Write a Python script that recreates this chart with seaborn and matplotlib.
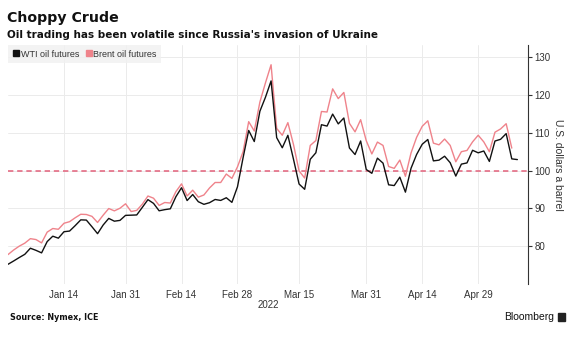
import numpy as np
import pandas as pd
import matplotlib
matplotlib.use("Agg")
import matplotlib.pyplot as plt
import seaborn as sns
from matplotlib.lines import Line2D
from matplotlib.patches import Rectangle

# ---- data ----
dates = [d for d in pd.bdate_range("2021-12-31", "2022-05-10") if d != pd.Timestamp("2022-04-15")]

wti = [75.21,
       76.08, 76.99, 77.85, 79.46, 78.90, 78.23, 81.22, 82.64, 82.12, 83.82, 84.00,
       85.43, 86.96, 86.90, 85.14, 83.31, 85.60, 87.35, 86.61, 86.82, 88.15,
       88.20, 88.26, 90.27, 92.31, 91.32, 89.36, 89.66, 89.88, 93.10, 95.46,
       92.07, 93.66, 91.76, 91.07, 91.50, 92.35, 92.10, 92.81, 91.59, 95.72,
       103.41, 110.60, 107.67, 115.68, 119.40, 123.70, 108.70, 106.02, 109.33, 103.01,
       96.44, 95.04, 102.98, 104.70, 112.12, 111.76, 114.93, 112.34, 113.90, 105.96,
       104.24, 107.82, 100.28,
       99.27, 103.28, 101.96, 96.23, 96.03, 98.26, 94.29, 100.60, 104.25, 106.95,
       108.21, 102.56, 102.75, 103.79, 102.07, 98.54, 101.70, 102.02, 105.36, 104.69,
       105.17, 102.41, 107.81, 108.26, 109.77, 103.09, 102.90]

brent = [77.78,
         78.98, 80.00, 80.80, 81.99, 81.75, 80.87, 83.72, 84.67, 84.47, 86.06, 86.48,
         87.51, 88.44, 88.38, 87.89, 86.27, 88.20, 89.96, 89.34, 90.03, 91.21,
         89.16, 89.47, 91.11, 93.27, 92.69, 90.78, 91.55, 91.41, 94.44, 96.48,
         93.28, 94.81, 92.97, 93.54, 95.39, 96.84, 96.84, 99.08, 97.93, 100.99,
         104.97, 112.93, 110.46, 118.11, 123.21, 127.98, 111.14, 109.33, 112.67, 106.90,
         99.91, 98.02, 106.64, 107.93, 115.62, 115.48, 121.60, 119.03, 120.65, 112.48,
         110.23, 113.45, 107.91,
         104.39, 107.53, 106.64, 101.07, 100.58, 102.78, 98.48, 104.64, 108.78, 111.70,
         113.16, 107.25, 106.80, 108.33, 106.65, 102.32, 104.99, 105.32, 107.59, 109.34,
         107.58, 104.97, 110.14, 111.00, 112.39, 105.94]

tick_dates = ["2022-01-14", "2022-01-31", "2022-02-14", "2022-02-28",
              "2022-03-15", "2022-03-31", "2022-04-14", "2022-04-29"]
tick_labels = ["Jan 14", "Jan 31", "Feb 14", "Feb 28", "Mar 15", "Mar 31", "Apr 14", "Apr 29"]
y_ticks = [80, 90, 100, 110, 120, 130]
ref_level = 100

series_names = ["WTI oil futures", "Brent oil futures"]
colors = ["#111111", "#ef838b"]

# ---- frame ----
n = len(dates)
brent_full = brent + [np.nan] * (n - len(brent))
df = pd.DataFrame({"idx": np.arange(n), "date": dates, "WTI": wti, "Brent": brent_full})
long = df.melt(id_vars=["idx", "date"], value_vars=["WTI", "Brent"],
               var_name="series", value_name="price")

sns.set_style("white")
plt.rcParams["font.family"] = ["DejaVu Sans"]

fig = plt.figure(figsize=(5.74, 3.38), dpi=100)
ax = fig.add_axes([8 / 574, 1 - 284 / 338, 520 / 574, 239 / 338])

date_index = {d.strftime("%Y-%m-%d"): i for i, d in enumerate(dates)}
tick_pos = [date_index[t] for t in tick_dates]

# grid
for t in tick_pos:
    ax.axvline(t, color="#ebebeb", lw=0.7, zorder=0)
for y in y_ticks:
    ax.axhline(y, color="#ebebeb", lw=0.7, zorder=0)

ax.axhline(ref_level, color="#e2607a", lw=1.1, ls=(0, (3.5, 2.5)), zorder=1)

sns.lineplot(data=long, x="idx", y="price", hue="series",
             palette={"WTI": colors[0], "Brent": colors[1]},
             hue_order=["Brent", "WTI"], lw=1.0, ax=ax, legend=False, zorder=3)

ax.set_xlim(0, 92.9)
ax.set_ylim(70, 133.2)
ax.set_xticks(tick_pos)
ax.set_xticklabels(tick_labels, fontsize=7, color="#333333", family="Liberation Sans")
ax.tick_params(axis="x", length=0, pad=4)

ax.yaxis.tick_right()
ax.set_yticks(y_ticks)
ax.set_yticklabels([str(v) for v in y_ticks], fontsize=7, color="#333333", family="Liberation Sans")
ax.tick_params(axis="y", direction="out", length=3, width=0.8, color="#333333", pad=1.5)
ax.yaxis.set_label_position("right")
ax.set_ylabel("U.S. dollars a barrel", rotation=-90, fontsize=7.5, color="#333333",
              labelpad=9, family="Liberation Sans")
ax.set_xlabel("")

for s in ["top", "left", "bottom"]:
    ax.spines[s].set_visible(False)
ax.spines["right"].set_color("#333333")
ax.spines["right"].set_linewidth(0.8)

# legend
handles = [Line2D([], [], marker="s", ls="", color=c, markersize=4.5) for c in colors]
leg = ax.legend(handles, series_names, loc="upper left", bbox_to_anchor=(0.0, 1.0),
                frameon=True, ncol=2, handletextpad=0.1, columnspacing=0.7,
                borderpad=0.5, handlelength=0.8, borderaxespad=0.0,
                prop={"family": "Liberation Sans", "size": 6.5})
leg.get_frame().set_facecolor("#f1f1f1")
leg.get_frame().set_edgecolor("none")
leg.get_frame().set_boxstyle("square", pad=0)
for t in leg.get_texts():
    t.set_color("#333333")

# texts
fig.text(7 / 574, 1 - 18 / 338, "Choppy Crude", fontsize=10.2, fontweight="bold",
         va="center", ha="left", color="#111111")
fig.text(7 / 574, 1 - 35 / 338, "Oil trading has been volatile since Russia's invasion of Ukraine",
         fontsize=7.5, fontweight="bold", va="center", ha="left", color="#111111")
fig.text((8 + 520 / 2) / 574, 1 - 305 / 338, "2022", fontsize=7, ha="center", va="center",
         color="#333333", family="Liberation Sans")
fig.text(10 / 574, 1 - 318 / 338, "Source: Nymex, ICE", fontsize=5.8, fontweight="bold",
         ha="left", va="center", color="#111111")
fig.text(554 / 574, 1 - 317 / 338, "Bloomberg", fontsize=7.5, ha="right", va="center",
         color="#111111", family="Liberation Sans", fontweight="medium")
fig.patches.append(Rectangle((558 / 574, 1 - 321 / 338), 7 / 574, 8 / 338,
                             transform=fig.transFigure, color="#222222"))

fig.savefig("out.png", dpi=100)
